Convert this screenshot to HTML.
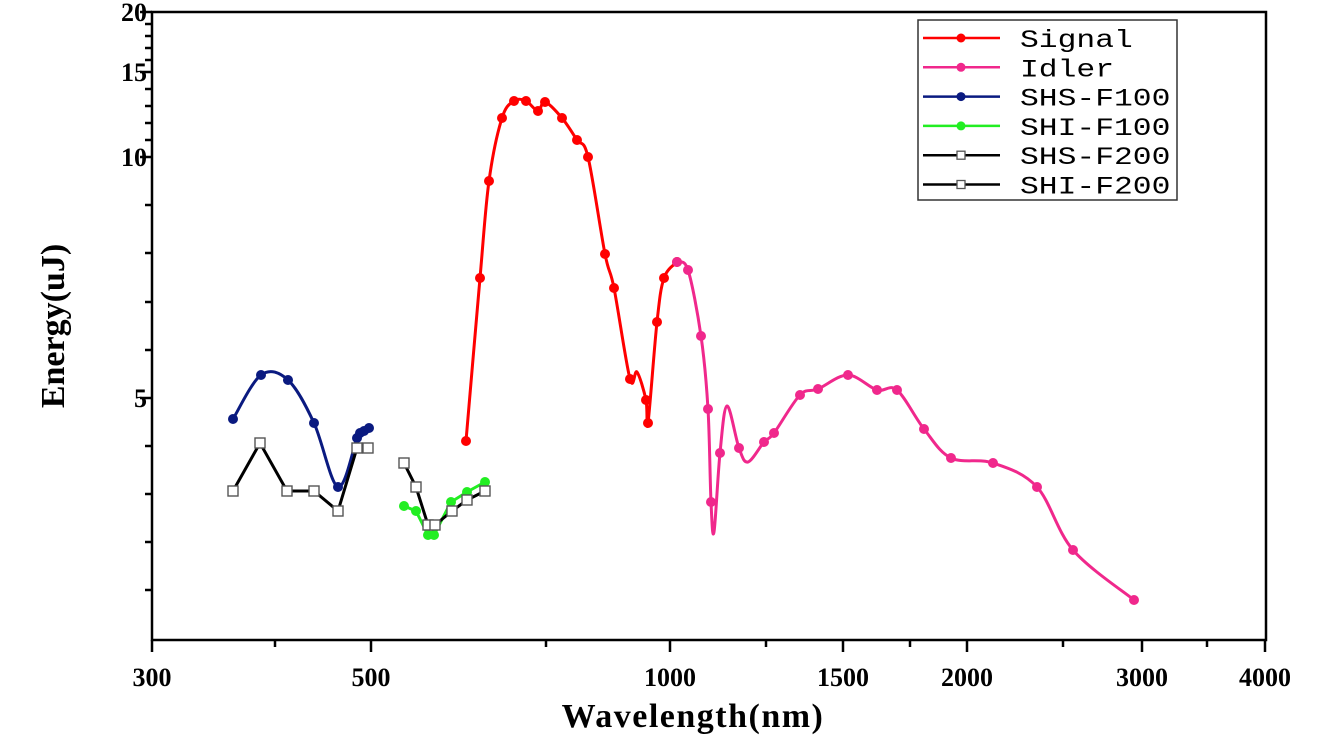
<!DOCTYPE html>
<html><head><meta charset="utf-8"><style>
html,body{margin:0;padding:0;background:#fff;}
svg{display:block;}
.tk{font-family:"Liberation Serif",serif;font-weight:bold;font-size:26px;fill:#000;}
.lg{font-family:"Liberation Mono",monospace;font-size:25px;fill:#000;}
</style></head><body>
<svg id="s" width="1333" height="755" xmlns="http://www.w3.org/2000/svg">
<rect x="152" y="12" width="1114" height="628" fill="none" stroke="#000" stroke-width="2.5"/>
<g id="ticks" stroke="#000" stroke-width="2.5"></g>
<g class="tk" text-anchor="end">
<text x="147" y="21">20</text><text x="147" y="81">15</text><text x="147" y="166">10</text><text x="147" y="407">5</text>
</g>
<g class="tk" text-anchor="middle">
<text x="152" y="686">300</text><text x="371" y="686">500</text><text x="670" y="686">1000</text><text x="843" y="686">1500</text><text x="967" y="686">2000</text><text x="1142" y="686">3000</text><text x="1265" y="686">4000</text>
</g>
<text x="693" y="727" text-anchor="middle" style="font-family:'Liberation Serif',serif;font-weight:bold;font-size:34px;letter-spacing:1.5px">Wavelength(nm)</text>
<text transform="translate(64,326) rotate(-90)" text-anchor="middle" style="font-family:'Liberation Serif',serif;font-weight:bold;font-size:34px">Energy(uJ)</text>
<g id="data"></g>
<rect x="918" y="20" width="259" height="180" fill="#fff" stroke="#333" stroke-width="1.5"/>
<g id="leg"></g>
</svg>
<script>
var NS="http://www.w3.org/2000/svg";
function el(p,t,a){var e=document.createElementNS(NS,t);for(var k in a)e.setAttribute(k,a[k]);p.appendChild(e);return e;}
var T=document.getElementById('ticks');
[12,72,157,398].forEach(function(y){el(T,'line',{x1:140,y1:y,x2:152,y2:y});});
[24,36,48,60,89,106,123,140,205,253,302,350,446,494,542,590].forEach(function(y){el(T,'line',{x1:145,y1:y,x2:152,y2:y});});
[152,371,670,843,967,1142,1265].forEach(function(x){el(T,'line',{x1:x,y1:640,x2:x,y2:652});});
[275,546,766,910,1063,1207].forEach(function(x){el(T,'line',{x1:x,y1:640,x2:x,y2:647});});
function smooth(p){var d="M"+p[0][0]+","+p[0][1];for(var i=0;i<p.length-1;i++){var p0=p[i-1]||p[i],p1=p[i],p2=p[i+1],p3=p[i+2]||p2;var t=6;d+=" C"+(p1[0]+(p2[0]-p0[0])/t)+","+(p1[1]+(p2[1]-p0[1])/t)+" "+(p2[0]-(p3[0]-p1[0])/t)+","+(p2[1]-(p3[1]-p1[1])/t)+" "+p2[0]+","+p2[1];}return d;}
function poly(p){return "M"+p.map(function(q){return q[0]+","+q[1];}).join(" L");}
var D=document.getElementById('data');
function series(pts,col,sm,sq){
 el(D,'path',{d:sm?smooth(pts):poly(pts),fill:'none',stroke:sq?'#000':col,'stroke-width':3});
 pts.forEach(function(q){ if(q[2])return;
  if(sq) el(D,'rect',{x:q[0]-5,y:q[1]-5,width:10,height:10,fill:'#fff',stroke:'#555','stroke-width':1.4});
  else el(D,'circle',{cx:q[0],cy:q[1],r:5,fill:col});});
}
series([[466,441],[480,278],[489,181],[502,118],[514,101],[526,101],[538,111],[545,102],[562,118],[577,140],[588,157],[605,254],[614,288],[630,379],[637,372,1],[646,400],[648,423],[657,322],[664,278],[677,262]],'#f00',true);
series([[677,262],[688,270],[701,336],[708,409],[711,502],[714,532,1],[720,453],[727,406,1],[739,448],[748,462,1],[764,442],[774,433],[800,395],[818,389],[848,375],[877,390],[897,390],[924,429],[951,458],[993,463],[1037,487],[1073,550],[1134,600]],'#f0288c',true);
series([[233,419],[261,375],[288,380],[314,423],[338,487],[357,438],[360,433],[364,431],[369,428]],'#0a1a80',true);
series([[404,506],[416,511],[428,535],[434,535],[451,502],[467,492],[485,482]],'#22ee22',false);
series([[233,491],[260,443],[287,491],[314,491],[338,511],[357,448],[368,448]],'#000',false,true);
series([[404,463],[416,487],[428,525],[435,525],[452,511],[467,500],[485,491]],'#000',false,true);
var L=document.getElementById('leg');
var items=[['Signal','#f00',0],['Idler','#f0288c',0],['SHS-F100','#0a1a80',0],['SHI-F100','#22ee22',0],['SHS-F200','#000',1],['SHI-F200','#000',1]];
items.forEach(function(it,i){var y=38+i*29.3;
 el(L,'line',{x1:923,y1:y,x2:1000,y2:y,stroke:it[1],'stroke-width':2.5});
 if(it[2]) el(L,'rect',{x:957,y:y-4,width:8,height:8,fill:'#fff',stroke:'#555','stroke-width':1.3});
 else el(L,'circle',{cx:961,cy:y,r:4.5,fill:it[1]});
 var t=el(L,'text',{x:1020,y:y+9,'class':'lg',textLength:it[0].length*18.8,lengthAdjust:'spacingAndGlyphs'});t.textContent=it[0];
});
</script>
</body></html>
